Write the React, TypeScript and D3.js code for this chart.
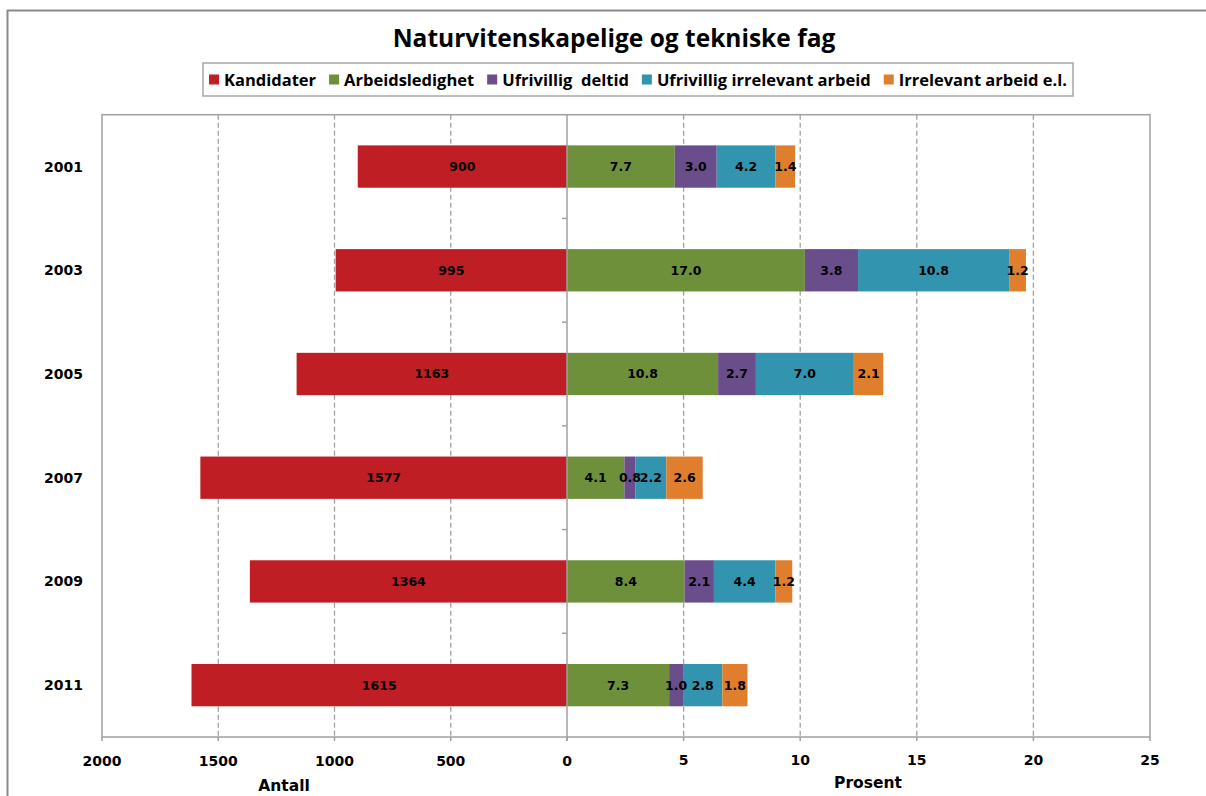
import React, { useEffect, useRef } from 'react';
import * as d3 from 'd3';

const years = ['2001', '2003', '2005', '2007', '2009', '2011'];
const kandidater = [900, 995, 1163, 1577, 1364, 1615];
const arbeidsledighet = [7.7, 17.0, 10.8, 4.1, 8.4, 7.3];
const ufrivilligDeltid = [3.0, 3.8, 2.7, 0.8, 2.1, 1.0];
const ufrivilligIrrelevant = [4.2, 10.8, 7.0, 2.2, 4.4, 2.8];
const irrelevantEl = [1.4, 1.2, 2.1, 2.6, 1.2, 1.8];
const antallTicks = [2000, 1500, 1000, 500, 0];
const prosentTicks = [0, 5, 10, 15, 20, 25];
const seriesNames = ['Kandidater', 'Arbeidsledighet', 'Ufrivillig  deltid', 'Ufrivillig irrelevant arbeid', 'Irrelevant arbeid e.l.'];
const seriesColors = ['#BE1E24', '#6F903A', '#6A4D8B', '#3394AF', '#DF7F2D'];
const title = 'Naturvitenskapelige og tekniske fag';

export default function App() {
  const ref = useRef<SVGSVGElement>(null);
  useEffect(() => {
    const svg = d3.select(ref.current);
    svg.selectAll('*').remove();
    const W = 1206, H = 796;
    const plot = { left: 102, right: 1150, top: 114.7, bottom: 737 };
    const x0 = 567;
    const axisColor = '#a0a0a0';
    const tickFont = 'DejaVu Sans, Verdana, sans-serif';
    const legendFont = '"Open Sans", sans-serif';

    svg.append('rect').attr('x', 0).attr('y', 0).attr('width', W).attr('height', H).attr('fill', '#fff');
    svg.append('rect').attr('x', 7.5).attr('y', 10.5).attr('width', 1300).attr('height', 900)
      .attr('fill', 'none').attr('stroke', '#8a8a8a').attr('stroke-width', 2);

    // Title
    svg.append('text').attr('x', 614).attr('y', 47).attr('text-anchor', 'middle')
      .attr('font-family', legendFont).attr('font-weight', 700).attr('font-size', 24.5).attr('fill', '#000')
      .text(title);

    // Scales
    const xL = d3.scaleLinear().domain([0, 2000]).range([x0, plot.left]);
    const xTick = d3.scaleLinear().domain([0, 25]).range([x0, plot.right]);
    const xBar = d3.scaleLinear().domain([0, 25 / 0.6]).range([x0, plot.right]);
    const y = d3.scaleBand().domain(years).range([plot.top, plot.bottom]).paddingInner(0.592).paddingOuter(0.296);

    // Gridlines
    const g = svg.append('g');
    g.selectAll('.gl').data(antallTicks.filter(t => t !== 0 && t !== 2000)).join('line')
      .attr('x1', d => xL(d)).attr('x2', d => xL(d)).attr('y1', plot.top).attr('y2', plot.bottom)
      .attr('stroke', axisColor).attr('stroke-width', 1.3).attr('stroke-dasharray', '5,3');
    g.selectAll('.gr').data(prosentTicks.filter(t => t !== 0 && t !== 25)).join('line')
      .attr('x1', d => xTick(d)).attr('x2', d => xTick(d)).attr('y1', plot.top).attr('y2', plot.bottom)
      .attr('stroke', axisColor).attr('stroke-width', 1.3).attr('stroke-dasharray', '5,3');

    // Plot border
    svg.append('rect').attr('x', plot.left).attr('y', plot.top).attr('width', plot.right - plot.left)
      .attr('height', plot.bottom - plot.top).attr('fill', 'none').attr('stroke', axisColor).attr('stroke-width', 1.5);

    // Left bars
    const bars = svg.append('g');
    bars.selectAll('.kb').data(kandidater).join('rect')
      .attr('x', d => xL(d)).attr('width', d => x0 - xL(d))
      .attr('y', (d, i) => y(years[i])!).attr('height', y.bandwidth())
      .attr('fill', seriesColors[0]);

    // Right stacked bars
    const rows = years.map((yr, i) => ({
      year: yr,
      a: arbeidsledighet[i], b: ufrivilligDeltid[i], c: ufrivilligIrrelevant[i], d: irrelevantEl[i],
    }));
    const keys = ['a', 'b', 'c', 'd'];
    const stack = d3.stack<any>().keys(keys)(rows);
    stack.forEach((layer, li) => {
      bars.selectAll('.s' + li).data(layer).join('rect')
        .attr('x', d => xBar(d[0])).attr('width', d => xBar(d[1]) - xBar(d[0]))
        .attr('y', d => y(d.data.year)!).attr('height', y.bandwidth())
        .attr('fill', seriesColors[li + 1]);
    });

    // Labels
    const lab = svg.append('g').attr('font-family', tickFont).attr('font-weight', 700).attr('font-size', 12.5)
      .attr('fill', '#000').attr('text-anchor', 'middle');
    lab.selectAll('.kl').data(kandidater).join('text')
      .attr('x', d => (xL(d) + x0) / 2).attr('y', (d, i) => y(years[i])! + y.bandwidth() / 2)
      .attr('dy', '0.36em').text(d => d3.format('d')(d));
    stack.forEach((layer, li) => {
      lab.selectAll('.l' + li).data(layer).join('text')
        .attr('x', d => (xBar(d[0]) + xBar(d[1])) / 2).attr('y', d => y(d.data.year)! + y.bandwidth() / 2)
        .attr('dy', '0.36em').text(d => d3.format('.1f')(d[1] - d[0]));
    });

    // Zero axis
    svg.append('line').attr('x1', x0).attr('x2', x0).attr('y1', plot.top).attr('y2', plot.bottom)
      .attr('stroke', axisColor).attr('stroke-width', 1.5);
    const bounds = years.slice(1).map(yr => y(yr)! - y.step() * y.paddingInner() / 2);
    svg.selectAll('.zt').data(bounds).join('line')
      .attr('x1', x0 - 5).attr('x2', x0).attr('y1', d => d).attr('y2', d => d)
      .attr('stroke', axisColor).attr('stroke-width', 1.5);

    // Bottom ticks
    svg.selectAll('.btl').data(antallTicks).join('line')
      .attr('x1', d => xL(d)).attr('x2', d => xL(d)).attr('y1', plot.bottom).attr('y2', plot.bottom + 4)
      .attr('stroke', axisColor).attr('stroke-width', 1.5);
    svg.selectAll('.btr').data(prosentTicks).join('line')
      .attr('x1', d => xTick(d)).attr('x2', d => xTick(d)).attr('y1', plot.bottom).attr('y2', plot.bottom + 4)
      .attr('stroke', axisColor).attr('stroke-width', 1.5);

    const tl = svg.append('g').attr('font-family', tickFont).attr('font-weight', 700).attr('font-size', 14)
      .attr('fill', '#000').attr('text-anchor', 'middle');
    tl.selectAll('.tll').data(antallTicks).join('text')
      .attr('x', d => xL(d)).attr('y', 766).text(d => String(d));
    tl.selectAll('.tlr').data(prosentTicks.filter(t => t !== 0)).join('text')
      .attr('x', d => xTick(d)).attr('y', 765).text(d => String(d));
    tl.append('text').attr('x', 284).attr('y', 791).attr('font-size', 15.5).text('Antall');
    tl.append('text').attr('x', 868).attr('y', 788).attr('font-size', 15.5).text('Prosent');

    // Y labels
    svg.append('g').attr('font-family', tickFont).attr('font-weight', 700).attr('font-size', 14)
      .attr('fill', '#000').attr('text-anchor', 'end')
      .selectAll('text').data(years).join('text')
      .attr('x', 83).attr('y', d => y(d)! + y.bandwidth() / 2).attr('dy', '0.36em').text(d => d);

    // Legend
    const lg = svg.append('g');
    lg.append('rect').attr('x', 203).attr('y', 63).attr('width', 870).attr('height', 33)
      .attr('fill', '#fff').attr('stroke', '#a6a6a6').attr('stroke-width', 1.5);
    const items = lg.append('g');
    let cx = 0;
    seriesNames.forEach((name, i) => {
      const it = items.append('g').attr('transform', `translate(${cx},0)`);
      it.append('rect').attr('x', 0).attr('y', 74.5).attr('width', 10).attr('height', 10).attr('fill', seriesColors[i]);
      const t = it.append('text').attr('x', 15).attr('y', 85.5).attr('font-family', legendFont)
        .attr('font-weight', 700).attr('font-size', 16.5).attr('fill', '#000').attr('xml:space', 'preserve')
        .style('white-space', 'pre').text(name);
      const w = (t.node() as SVGTextElement).getComputedTextLength();
      cx += 15 + w + 13;
    });
    const total = cx - 13;
    items.attr('transform', `translate(${203 + (870 - total) / 2},0)`);
  }, []);
  return <svg ref={ref} width={1206} height={796} style={{ position: 'absolute', left: 0, top: 0 }} />;
}
